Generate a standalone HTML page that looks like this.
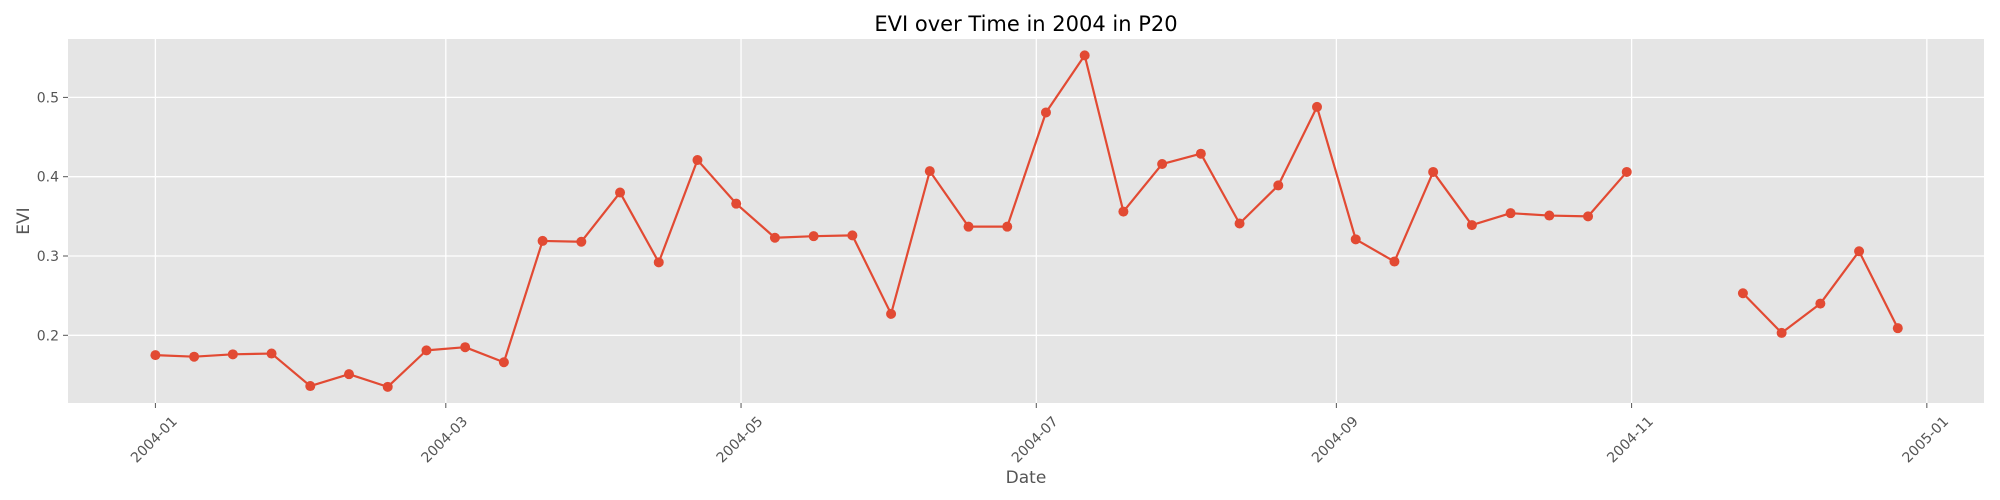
<!DOCTYPE html>
<html><head><meta charset="utf-8"><style>
html,body{margin:0;padding:0;background:#fff;}
svg{display:block;font-family:"DejaVu Sans","Liberation Sans",sans-serif;}
</style></head><body>
<svg id="chart" width="2000" height="500" xmlns="http://www.w3.org/2000/svg">
<rect x="68" y="39" width="1916" height="364" fill="#E5E5E5"/>
<g id="grid"></g>
<g id="axes"></g>
<g id="series"></g>
<text x="1026" y="31" text-anchor="middle" font-size="21" fill="#000">EVI over Time in 2004 in P20</text>
<text x="1026" y="483" text-anchor="middle" font-size="17" fill="#555">Date</text>
<text x="0" y="0" transform="translate(29,221) rotate(-90)" text-anchor="middle" font-size="17" fill="#555">EVI</text>
</svg>
<script>
const dayOffsets = [0,8,16,24,32,40,48,56,64,72,80,88,96,104,112,120,128,136,144,152,160,168,176,184,192,200,208,216,224,232,240,248,256,264,272,280,288,296,304,312,320,328,336,344,352,360];
const eviValues = [0.175,0.173,0.176,0.177,0.136,0.151,0.135,0.181,0.185,0.166,0.319,0.318,0.380,0.292,0.421,0.366,0.323,0.325,0.326,0.227,0.407,0.337,0.337,0.481,0.553,0.356,0.416,0.429,0.341,0.389,0.488,0.321,0.293,0.406,0.339,0.354,0.351,0.350,0.406,null,null,0.253,0.203,0.240,0.306,0.209];
const yTicks = [0.2,0.3,0.4,0.5];
const xTickDays = [0,60,121,182,244,305,366];
const xTickLabels = ["2004-01","2004-03","2004-05","2004-07","2004-09","2004-11","2005-01"];

const NS = "http://www.w3.org/2000/svg";
const L=68,R=1984,T=39,B=403;
function xs(d){return 155.4 + d*4.840;}
function ys(v){return 335.3 - (v-0.2)*793;}
function mk(tag,attrs,parent){const e=document.createElementNS(NS,tag);for(const k in attrs)e.setAttribute(k,attrs[k]);parent.appendChild(e);return e;}
const grid=document.getElementById('grid'), axes=document.getElementById('axes'), series=document.getElementById('series');

yTicks.forEach(v=>{
  const y=ys(v);
  const g=mk('line',{x1:L,x2:R,y1:y,y2:y,stroke:'#fff','stroke-width':1.3},grid);
  
  
  const t=mk('line',{x1:L-5,x2:L,y1:y,y2:y,stroke:'#555','stroke-width':1},axes);
  
  
  const lb=mk('text',{x:L-9,y:y+5,'text-anchor':'end','font-size':14,fill:'#555'},axes);
  lb.textContent=v.toFixed(1);
  
  
});
xTickDays.forEach((d,i)=>{
  const x=xs(d);
  const g=mk('line',{x1:x,x2:x,y1:T,y2:B,stroke:'#fff','stroke-width':1.3},grid);
  
  
  const t=mk('line',{x1:x,x2:x,y1:B,y2:B+5,stroke:'#555','stroke-width':1},axes);
  
  
  const lb=mk('text',{x:0,y:0,transform:`translate(${x-1},${440}) rotate(-45)`,'text-anchor':'middle','dominant-baseline':'middle','font-size':14,fill:'#555'},axes);
  lb.textContent=xTickLabels[i];
  
  
});

let segs=[],cur=[];
eviValues.forEach((v,i)=>{
  if(v===null){if(cur.length)segs.push(cur);cur=[];}
  else cur.push([xs(dayOffsets[i]),ys(v)]);
});
if(cur.length)segs.push(cur);
segs.forEach(s=>{
  const p=mk('polyline',{points:s.map(q=>q.join(',')).join(' '),fill:'none',stroke:'#E24A33','stroke-width':2.2,'stroke-linejoin':'round'},series);
  
  
});
eviValues.forEach((v,i)=>{
  if(v===null)return;
  const c=mk('circle',{cx:xs(dayOffsets[i]),cy:ys(v),r:5,fill:'#E24A33'},series);
  
  
});
</script>
</body></html>
